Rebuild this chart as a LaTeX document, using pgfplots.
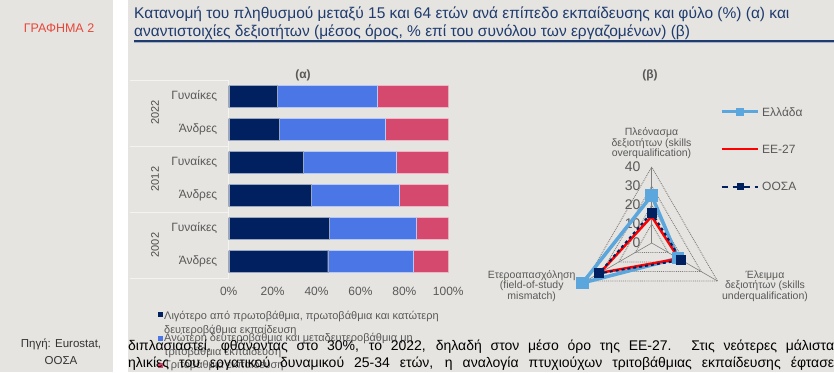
\documentclass[border=0pt]{standalone}
\usepackage{fontspec}
\setmainfont{Liberation Sans}
\usepackage{pgfplots}
\pgfplotsset{compat=1.18}
\definecolor{bgc}{HTML}{E5E4E0}
\definecolor{navy}{HTML}{002060}
\definecolor{midblue}{HTML}{4A76E6}
\definecolor{pinkc}{HTML}{D6496F}
\definecolor{txtgray}{HTML}{595959}
\definecolor{titleblue}{HTML}{1F3B6F}
\definecolor{redlabel}{HTML}{E8473A}
\definecolor{grc}{HTML}{5BA6DD}
\definecolor{eured}{HTML}{FF0000}
\definecolor{gridc}{HTML}{7F7F7F}
\newcommand{\fs}[1]{\fontsize{#1bp}{#1bp}\selectfont}
\begin{document}
\begin{tikzpicture}
\begin{scope}[x=1bp,y=1bp]
\fill[bgc] (0,0) rectangle (834,372);
\fill[white] (113,0) rectangle (128,372);
% left column
\node[text=redlabel, font=\fs{12.5}] at (59,344) {ΓΡΑΦΗΜΑ 2};
\node[text=black!80, font=\fs{11.5}, anchor=base] at (61,25) {Πηγή: Eurostat,};
\node[text=black!80, font=\fs{11.5}, anchor=base] at (61,8) {ΟΟΣΑ};
% title
\node[text=titleblue, font=\fs{15.5}, anchor=base west, inner sep=0] at (134,353.4) {Κατανομή του πληθυσμού μεταξύ 15 και 64 ετών ανά επίπεδο εκπαίδευσης και φύλο (\%) (α) και};
\node[text=titleblue, font=\fs{15.5}, anchor=base west, inner sep=0] at (134,336) {αναντιστοιχίες δεξιοτήτων (μέσος όρος, \% επί του συνόλου των εργαζομένων) (β)};
\draw[titleblue, line width=1.2bp] (134,331) -- (834,331);
\draw[titleblue!40, line width=0.6bp] (134,329.3) -- (834,329.3);
% panel (a) decorations
\node[text=txtgray, font=\bfseries\fs{12}] at (303,297) {(α)};
\foreach \yy in {292,226,159.5,94} {\draw[white!55!bgc, line width=0.8bp] (130,\yy) -- (228.7,\yy);}
\draw[white!55!bgc, line width=0.8bp] (228.7,94) -- (228.7,292);
\node[rotate=90, text=black!70, font=\fs{11}] at (155,259.5) {2022};
\node[rotate=90, text=black!70, font=\fs{11}] at (155,193) {2012};
\node[rotate=90, text=black!70, font=\fs{11}] at (155,127) {2002};
\end{scope}
\begin{axis}[
  at={(228.7bp,94bp)}, anchor=south west, scale only axis,
  width=219.6bp, height=198bp,
  xbar stacked, bar width=22bp,
  xmin=0, xmax=100, ymin=0.5, ymax=6.5,
  axis line style={draw=none}, tick style={draw=none},
  xtick={0,20,40,60,80,100},
  xticklabels={0\%,20\%,40\%,60\%,80\%,100\%},
  ytick={1,2,3,4,5,6},
  yticklabels={Άνδρες,Γυναίκες,Άνδρες,Γυναίκες,Άνδρες,Γυναίκες},
  ticklabel style={font=\fs{12}, text=txtgray},
  xticklabel style={yshift=-6bp},
  yticklabel style={xshift=-8bp},
  /pgf/number format/assume math mode=true,
]
\addplot[fill=navy, draw=white!60!navy, line width=0.4bp] coordinates {(45.1,1) (45.7,2) (37.5,3) (33.8,4) (23.0,5) (21.9,6)};
\addplot[fill=midblue, draw=white!60!midblue, line width=0.4bp] coordinates {(39.0,1) (39.5,2) (40.2,3) (42.4,4) (48.3,5) (45.6,6)};
\addplot[fill=pinkc, draw=white!60!pinkc, line width=0.4bp] coordinates {(15.9,1) (14.8,2) (22.3,3) (23.8,4) (28.7,5) (32.5,6)};
\end{axis}
\begin{axis}[
  at={(566.2bp,81.5bp)}, anchor=south west, scale only axis,
  width=171bp, height=127.3bp,
  xmin=-45, xmax=45, ymin=-25, ymax=42,
  hide axis, clip=false,
]
\addplot[gridc, line width=0.9bp, densely dotted, data cs=polar] coordinates {(90,10) (210,10) (330,10) (90,10)};
\addplot[gridc, line width=0.9bp, densely dotted, data cs=polar] coordinates {(90,20) (210,20) (330,20) (90,20)};
\addplot[gridc, line width=0.9bp, densely dotted, data cs=polar] coordinates {(90,30) (210,30) (330,30) (90,30)};
\addplot[gridc, line width=0.9bp, densely dotted, data cs=polar] coordinates {(90,40) (210,40) (330,40) (90,40)};
\addplot[gridc, line width=0.6bp, data cs=polar] coordinates {(90,0) (90,40)};
\addplot[gridc, line width=0.6bp, data cs=polar] coordinates {(210,0) (210,40)};
\addplot[gridc, line width=0.6bp, data cs=polar] coordinates {(330,0) (330,40)};
\foreach \v in {0,10,20,30,40} {
  \edef\temp{\noexpand\node[anchor=east, inner sep=0, text=txtgray, font=\noexpand\fs{14}] at (axis cs:-5.8,\v) {\v};}
  \temp
}
\addplot[grc, line width=3.5bp, mark=square*, mark size=4.5bp, data cs=polar] coordinates {(90,25) (330,16) (210,42) (90,25)};
\addplot[eured, line width=2.5bp, data cs=polar] coordinates {(90,14) (330,16.5) (210,31.5) (90,14)};
\addplot[navy, line width=2bp, dashed, mark=square*, mark size=4bp, mark options={solid}, data cs=polar] coordinates {(90,16) (330,18) (210,32) (90,16)};
\end{axis}
\begin{scope}[x=1bp,y=1bp]
% legend (a)
\fill[navy] (158,55) rectangle +(5,5);
\fill[midblue] (158,31.5) rectangle +(5,5);
\fill[pinkc] (158,4.5) rectangle +(5,5);
\node[text=txtgray, font=\fs{11}, anchor=west, inner sep=0] at (164,56) {Λιγότερο από πρωτοβάθμια, πρωτοβάθμια και κατώτερη};
\node[text=txtgray, font=\fs{11}, anchor=west, inner sep=0] at (164,42) {δευτεροβάθμια εκπαίδευση};
\node[text=txtgray, font=\fs{11}, anchor=west, inner sep=0] at (164,33.5) {Ανώτερη δευτεροβάθμια και μεταδευτεροβάθμια μη};
\node[text=txtgray, font=\fs{11}, anchor=west, inner sep=0] at (164,20) {τριτοβάθμια εκπαίδευση};
\node[text=txtgray, font=\fs{11}, anchor=west, inner sep=0] at (164,7) {Τριτοβάθμια εκπαίδευση};
% panel (b)
\node[text=txtgray, font=\bfseries\fs{12}] at (650,297) {(β)};
\node[text=txtgray, font=\fs{10.5}, align=center] at (651.5,228.5) {Πλεόνασμα\\δεξιοτήτων (skills\\overqualification)};
\node[text=txtgray, font=\fs{10.5}, align=center] at (765,86) {Έλειμμα\\δεξιοτήτων (skills\\underqualification)};
\node[text=txtgray, font=\fs{10.5}, align=center] at (531.7,86) {Ετεροαπασχόληση\\(field-of-study\\mismatch)};
% legend (b)
\draw[grc, line width=3.5bp] (721.7,260.3) -- (758.3,260.3);
\fill[grc] (736,256.3) rectangle +(8,8);
\node[text=txtgray, font=\fs{12}, anchor=west, inner sep=0] at (762,260.3) {Ελλάδα};
\draw[eured, line width=2.5bp] (721.7,223) -- (758.3,223);
\node[text=txtgray, font=\fs{12}, anchor=west, inner sep=0] at (762,223) {ΕΕ-27};
\draw[navy, line width=2bp, dash pattern=on 6bp off 5bp] (721.7,185.3) -- (758.3,185.3);
\fill[navy] (736.5,181.8) rectangle +(7,7);
\node[text=txtgray, font=\fs{12}, anchor=west, inner sep=0] at (762,185.3) {ΟΟΣΑ};
% body text
\node[text=black, font=\fs{14}, anchor=base west, inner sep=0] at (128,22) {\makebox[706bp][s]{διπλασιαστεί, φθάνοντας στο 30\%, το 2022, δηλαδή στον μέσο όρο της ΕΕ-27. Στις νεότερες μάλιστα}};
\node[text=black, font=\fs{14}, anchor=base west, inner sep=0] at (128,5) {\makebox[706bp][s]{ηλικίες του εργατικού δυναμικού 25-34 ετών, η αναλογία πτυχιούχων τριτοβάθμιας εκπαίδευσης έφτασε}};
\pgfresetboundingbox
\path[use as bounding box] (0,0) rectangle (834,372);
\end{scope}
\end{tikzpicture}
\end{document}
